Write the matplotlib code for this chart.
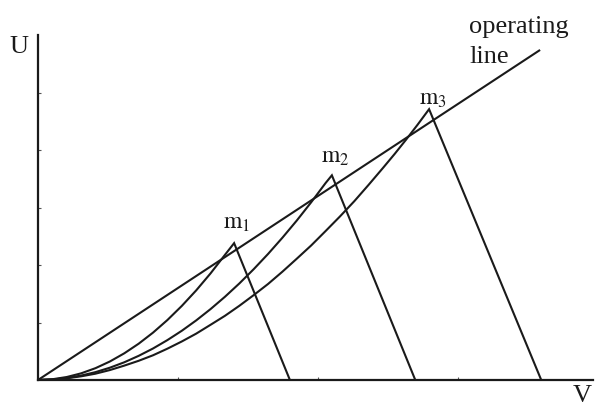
import matplotlib
matplotlib.use("Agg")
import matplotlib.pyplot as plt

plt.rcParams["font.family"] = ["Liberation Serif", "DejaVu Serif"]
plt.rcParams["mathtext.fontset"] = "stix"

# operating line (origin to its upper end)
op_x = [0.0, 8.73]
op_y = [0.0, 5.74]

# curves rising from the origin to each peak m1, m2, m3
c1_x = [0.0, 0.25, 0.5, 0.75, 1.0, 1.25, 1.5, 1.75, 2.0, 2.25, 2.5, 2.75, 3.0, 3.25, 3.41]
c1_y = [0.0, 0.013, 0.052, 0.116, 0.206, 0.322, 0.464, 0.631, 0.824, 1.043, 1.288,
        1.558, 1.854, 2.176, 2.38]

c2_x = [0.0, 0.25, 0.5, 0.75, 1.0, 1.25, 1.5, 1.75, 2.0, 2.25, 2.5, 2.75, 3.0, 3.25,
        3.5, 3.75, 4.0, 4.25, 4.5, 4.75, 5.0, 5.11]
c2_y = [0.0, 0.009, 0.034, 0.077, 0.137, 0.214, 0.308, 0.420, 0.548, 0.694, 0.856,
        1.036, 1.233, 1.447, 1.678, 1.927, 2.192, 2.475, 2.774, 3.091, 3.425, 3.56]

c3_x = [0.0, 0.25, 0.5, 0.75, 1.0, 1.25, 1.5, 1.75, 2.0, 2.25, 2.5, 2.75, 3.0, 3.25,
        3.5, 3.75, 4.0, 4.25, 4.5, 4.75, 5.0, 5.25, 5.5, 5.75, 6.0, 6.2, 6.4, 6.6, 6.8]
c3_y = [0.0, 0.008, 0.03, 0.064, 0.11, 0.173, 0.25, 0.334, 0.43, 0.545, 0.67, 0.806,
        0.96, 1.116, 1.29, 1.476, 1.67, 1.884, 2.11, 2.34, 2.59, 2.844, 3.11, 3.396,
        3.69, 3.93, 4.18, 4.44, 4.71]

# where the falling branch of each peak meets the V axis
feet_x = [4.38, 6.56, 8.75]
peak_labels = [r"$\mathrm{m}_1$", r"$\mathrm{m}_2$", r"$\mathrm{m}_3$"]
# label offsets from the peak, in pixels (left edge, baseline)
label_offsets = [(-11, 14), (-11, 13), (-10, 4)]

y_ticks = [1, 2, 3, 4, 5]
x_ticks = [2.435, 4.87, 7.305]

fig = plt.figure(figsize=(5.96, 4.08), dpi=100)
ax = fig.add_axes([38 / 596, 28 / 408, 555 / 596, 345 / 408])

lw = 1.5
col = "#1a1a1a"
ax.plot(op_x, op_y, color=col, lw=lw, solid_capstyle="butt")
for cx, cy, fx, lab, off in zip([c1_x, c2_x, c3_x], [c1_y, c2_y, c3_y], feet_x,
                                peak_labels, label_offsets):
    ax.plot(cx + [fx], cy + [0.0], color=col, lw=lw, solid_joinstyle="miter")
    ax.annotate(lab, (cx[-1], cy[-1]), xytext=off, textcoords="offset pixels",
                fontsize=17, ha="left", va="baseline", color=col)

ax.text(7.50, 6.03, "operating", fontsize=19, ha="left", va="baseline", color=col)
ax.text(7.50, 5.51, "line", fontsize=19, ha="left", va="baseline", color=col)

ax.set_xlim(0, 9.65)
ax.set_ylim(0, 6.0)
ax.spines["top"].set_visible(False)
ax.spines["right"].set_visible(False)
for s in ("left", "bottom"):
    ax.spines[s].set_linewidth(1.6)
    ax.spines[s].set_color(col)
ax.set_yticks(y_ticks)
ax.set_xticks(x_ticks)
ax.set_yticklabels([])
ax.set_xticklabels([])
ax.tick_params(axis="both", direction="in", length=2, width=0.8, color="#555555")

fig.text(19 / 596, 1 - 47 / 408, "U", fontsize=19, ha="center", va="center", color=col)
fig.text(582 / 596, 1 - 396 / 408, "V", fontsize=19, ha="center", va="center", color=col)

fig.savefig("out.png", dpi=100)
